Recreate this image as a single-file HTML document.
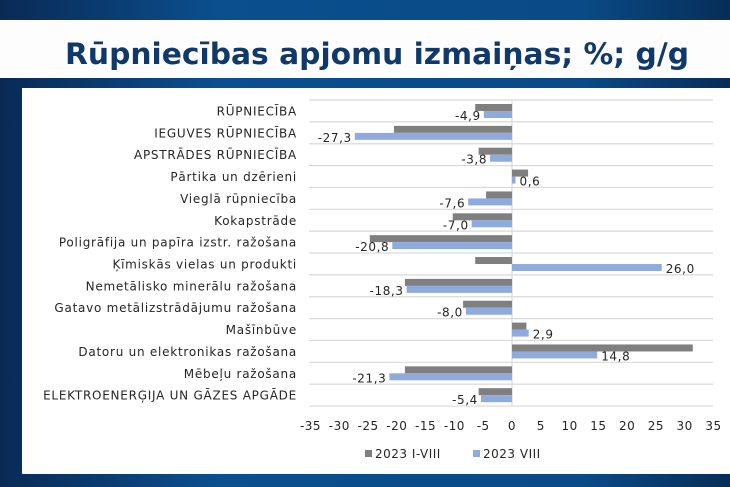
<!DOCTYPE html>
<html><head><meta charset="utf-8"><style>
html,body{margin:0;padding:0;width:730px;height:487px;overflow:hidden;background:#0a4a86;}
</style></head><body>
<svg width="730" height="487" xmlns="http://www.w3.org/2000/svg" font-family="'DejaVu Sans','Liberation Sans',sans-serif">
<defs>
<linearGradient id="bg" x1="0" x2="1" y1="0" y2="0">
<stop offset="0" stop-color="#0a2a55"/><stop offset="0.3" stop-color="#0b4f8f"/><stop offset="0.8" stop-color="#0a4a86"/><stop offset="1" stop-color="#072d58"/>
</linearGradient>
</defs>
<rect width="730" height="487" fill="url(#bg)"/>
<rect x="0" y="20" width="730" height="58" fill="#fdfdfd"/>
<text x="65" y="64" textLength="624" lengthAdjust="spacingAndGlyphs" font-size="29" font-weight="bold" fill="#10396a">Rūpniecības apjomu izmaiņas; %; g/g</text>
<rect x="22" y="88" width="708" height="386" fill="#ffffff"/>
<g stroke="#d9d9d9" stroke-width="1.2">
<line x1="309" x2="713" y1="100" y2="100"/><line x1="309" x2="713" y1="121.86" y2="121.86"/><line x1="309" x2="713" y1="143.72" y2="143.72"/><line x1="309" x2="713" y1="165.58" y2="165.58"/><line x1="309" x2="713" y1="187.44" y2="187.44"/><line x1="309" x2="713" y1="209.3" y2="209.3"/><line x1="309" x2="713" y1="231.16" y2="231.16"/><line x1="309" x2="713" y1="253.02" y2="253.02"/><line x1="309" x2="713" y1="274.88" y2="274.88"/><line x1="309" x2="713" y1="296.74" y2="296.74"/><line x1="309" x2="713" y1="318.6" y2="318.6"/><line x1="309" x2="713" y1="340.46" y2="340.46"/><line x1="309" x2="713" y1="362.32" y2="362.32"/><line x1="309" x2="713" y1="384.18" y2="384.18"/><line x1="309" x2="713" y1="406.04" y2="406.04"/>
<line x1="512" x2="512" y1="100" y2="406"/>
</g>
<g fill="#7f7f7f">
<rect x="475.2" y="104" width="36.8" height="7"/>
<rect x="394.0" y="125.86" width="118" height="7"/>
<rect x="478.6" y="147.72" width="33.4" height="7"/>
<rect x="512" y="169.58" width="16.1" height="7"/>
<rect x="486.1" y="191.44" width="25.9" height="7"/>
<rect x="452.7" y="213.3" width="59.3" height="7"/>
<rect x="369.8" y="235.16" width="142.2" height="7"/>
<rect x="475.2" y="257.02" width="36.8" height="7"/>
<rect x="404.9" y="278.88" width="107.1" height="7"/>
<rect x="463.1" y="300.74" width="48.9" height="7"/>
<rect x="512" y="322.6" width="14.4" height="7"/>
<rect x="512" y="344.46" width="180.8" height="7"/>
<rect x="404.9" y="366.32" width="107.1" height="7"/>
<rect x="478.6" y="388.18" width="33.4" height="7"/>
</g>
<g fill="#8faadc">
<rect x="483.8" y="111" width="28.2" height="7"/>
<rect x="354.8" y="132.86" width="157.2" height="7"/>
<rect x="490.1" y="154.72" width="21.9" height="7"/>
<rect x="512" y="176.58" width="3.5" height="7"/>
<rect x="468.2" y="198.44" width="43.8" height="7"/>
<rect x="471.7" y="220.3" width="40.3" height="7"/>
<rect x="392.3" y="242.16" width="119.7" height="7"/>
<rect x="512" y="264.02" width="149.7" height="7"/>
<rect x="406.6" y="285.88" width="105.4" height="7"/>
<rect x="465.9" y="307.74" width="46.1" height="7"/>
<rect x="512" y="329.6" width="16.7" height="7"/>
<rect x="512" y="351.46" width="85.2" height="7"/>
<rect x="389.4" y="373.32" width="122.6" height="7"/>
<rect x="480.9" y="395.18" width="31.1" height="7"/>
</g>
<g font-size="12" fill="#262626" text-anchor="end" letter-spacing="0.6">
<text x="480.8" y="120">-4,9</text>
<text x="351.8" y="141.86">-27,3</text>
<text x="487.1" y="163.72">-3,8</text>
<text x="465.2" y="207.44">-7,6</text>
<text x="468.7" y="229.3">-7,0</text>
<text x="389.3" y="251.16">-20,8</text>
<text x="403.6" y="294.88">-18,3</text>
<text x="462.9" y="316.74">-8,0</text>
<text x="386.4" y="382.32">-21,3</text>
<text x="477.9" y="404.18">-5,4</text>
</g>
<g font-size="12" fill="#262626" letter-spacing="0.6">
<text x="519.5" y="185.58">0,6</text>
<text x="665.7" y="273.02">26,0</text>
<text x="532.7" y="338.6">2,9</text>
<text x="601.2" y="360.46">14,8</text>
</g>
<g font-size="12" fill="#262626" text-anchor="end" letter-spacing="0.75">
<text x="297" y="115.5">RŪPNIECĪBA</text>
<text x="297" y="137.36">IEGUVES RŪPNIECĪBA</text>
<text x="297" y="159.22">APSTRĀDES RŪPNIECĪBA</text>
<text x="297" y="181.08">Pārtika un dzērieni</text>
<text x="297" y="202.94">Vieglā rūpniecība</text>
<text x="297" y="224.8">Kokapstrāde</text>
<text x="297" y="246.66">Poligrāfija un papīra izstr. ražošana</text>
<text x="297" y="268.52">Ķīmiskās vielas un produkti</text>
<text x="297" y="290.38">Nemetālisko minerālu ražošana</text>
<text x="297" y="312.24">Gatavo metālizstrādājumu ražošana</text>
<text x="297" y="334.1">Mašīnbūve</text>
<text x="297" y="355.96">Datoru un elektronikas ražošana</text>
<text x="297" y="377.82">Mēbeļu ražošana</text>
<text x="297" y="399.68">ELEKTROENERĢIJA UN GĀZES APGĀDE</text>
</g>
<g font-size="12" fill="#262626" text-anchor="middle" letter-spacing="0.5">
<text x="310.5" y="430">-35</text><text x="339.3" y="430">-30</text><text x="368.1" y="430">-25</text><text x="396.9" y="430">-20</text><text x="425.6" y="430">-15</text><text x="454.4" y="430">-10</text><text x="483.2" y="430">-5</text><text x="512" y="430">0</text><text x="540.8" y="430">5</text><text x="569.6" y="430">10</text><text x="598.4" y="430">15</text><text x="627.1" y="430">20</text><text x="655.9" y="430">25</text><text x="684.7" y="430">30</text><text x="713.5" y="430">35</text>
</g>
<rect x="365" y="450" width="7" height="7" fill="#7f7f7f"/><text x="375" y="458" font-size="12" fill="#262626" letter-spacing="0.5">2023 I-VIII</text>
<rect x="473" y="450" width="7" height="7" fill="#8faadc"/><text x="483" y="458" font-size="12" fill="#262626" letter-spacing="0.5">2023 VIII</text>
</svg>
</body></html>
